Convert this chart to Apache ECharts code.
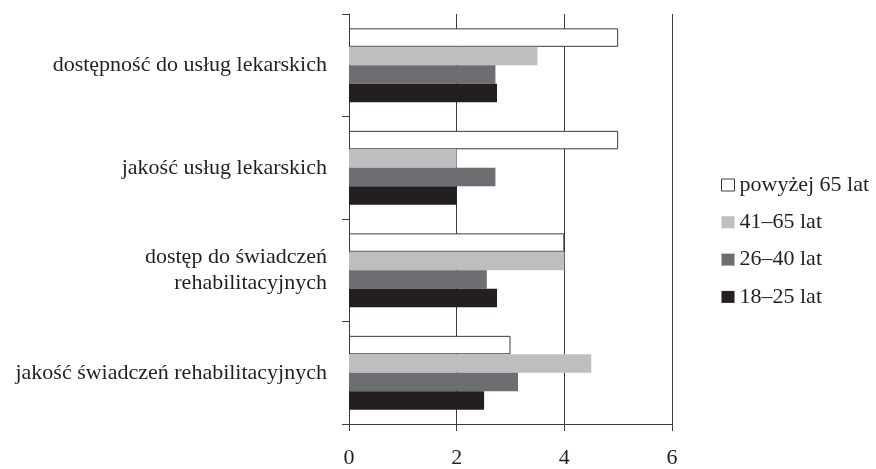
<!DOCTYPE html>
<html>
<head>
<meta charset="utf-8">
<script src="https://cdn.jsdelivr.net/npm/echarts@6/dist/echarts.min.js"></script>
<style>
html,body{margin:0;padding:0;background:#fff;}
#c{width:876px;height:469px;}
</style>
</head>
<body>
<div id="c"></div>
<script>
var categories = ['dostępność do usług lekarskich', 'jakość usług lekarskich', 'dostęp do świadczeń\nrehabilitacyjnych', 'jakość świadczeń rehabilitacyjnych'];
var seriesNames = ['powyżej 65 lat', '41–65 lat', '26–40 lat', '18–25 lat'];
var powyzej65 = [5, 5, 4, 3];
var lat41_65 = [3.5, 2, 4, 4.5];
var lat26_40 = [2.72, 2.72, 2.56, 3.14];
var lat18_25 = [2.75, 2, 2.75, 2.51];
var xTicks = [0, 2, 4, 6];

var FONT = '"Liberation Serif", "Times New Roman", serif';
var TXT = '#231f20';
var LINE = '#3a3a3a';
var colors = ['#ffffff', '#bcbec0', '#6d6e71', '#231f20'];
var values = [powyzej65, lat41_65, lat26_40, lat18_25];

var chart = echarts.init(document.getElementById('c'), null, {renderer: 'canvas'});
var series = seriesNames.map(function (n, i) {
  return {
    name: n,
    type: 'bar',
    data: values[i],
    barGap: '0%',
    barCategoryGap: '28%',
    itemStyle: i === 0 ? {color: colors[i], borderColor: LINE, borderWidth: 1} : {color: colors[i], borderWidth: 0},
    emphasis: {disabled: true},
    animation: false
  };
});
var legendData = seriesNames.map(function (n, i) {
  return i === 0
    ? {name: n, itemStyle: {color: colors[i], borderColor: LINE, borderWidth: 1}}
    : {name: n, itemStyle: {color: colors[i], borderWidth: 0}};
});
chart.setOption({
  animation: false,
  backgroundColor: '#ffffff',
  textStyle: {fontFamily: FONT, color: TXT},
  grid: {left: 349, right: 204, top: 14, bottom: 43, containLabel: false},
  legend: {
    orient: 'vertical',
    left: 716,
    top: 169,
    itemWidth: 13,
    itemHeight: 12,
    itemGap: 15.3,
    icon: 'rect',
    data: legendData,
    textStyle: {fontFamily: FONT, fontSize: 22, color: TXT, lineHeight: 22}
  },
  xAxis: {
    type: 'value',
    min: xTicks[0],
    max: xTicks[xTicks.length - 1],
    interval: 2,
    axisLine: {show: true, lineStyle: {color: LINE, width: 1}},
    axisTick: {show: true, length: 7, lineStyle: {color: LINE, width: 1}},
    axisLabel: {fontFamily: FONT, fontSize: 22, color: TXT, margin: 23},
    splitLine: {show: true, lineStyle: {color: LINE, width: 1}}
  },
  yAxis: {
    type: 'category',
    data: categories,
    inverse: true,
    axisLine: {show: true, lineStyle: {color: LINE, width: 1}},
    axisTick: {show: true, length: 7, lineStyle: {color: LINE, width: 1}},
    axisLabel: {fontFamily: FONT, fontSize: 22, color: TXT, margin: 22, lineHeight: 26, align: 'right', padding: [7, 0, 0, 0]},
    splitLine: {show: false}
  },
  series: series
});
</script>
</body>
</html>
